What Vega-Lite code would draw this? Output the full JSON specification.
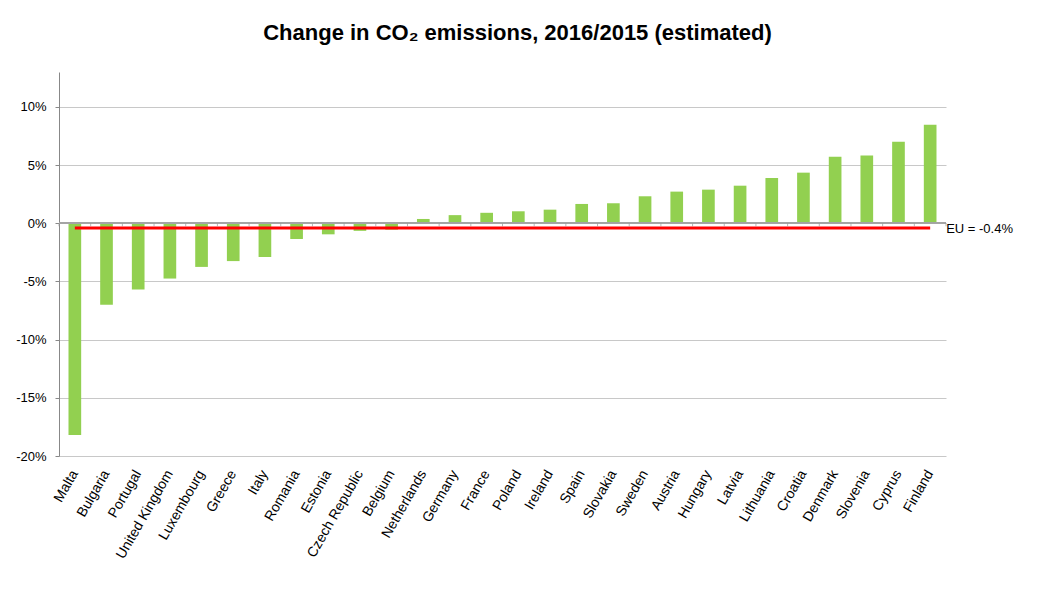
{
  "$schema": "https://vega.github.io/schema/vega-lite/v6.json",
  "width": 887,
  "height": 384,
  "autosize": "none",
  "padding": {"left": 59, "top": 72, "right": 91, "bottom": 145},
  "background": "white",
  "config": {"view": {"stroke": null}, "font": "Liberation Sans"},
  "title": {
    "text": "Change in CO₂ emissions, 2016/2015 (estimated)",
    "font": "Liberation Sans",
    "fontSize": 22,
    "fontWeight": "bold",
    "color": "black",
    "offset": 27,
    "dx": 15
  },
  "datasets": {
    "bars": [
      {"country": "Malta", "change": -18.2},
      {"country": "Bulgaria", "change": -7.0},
      {"country": "Portugal", "change": -5.7},
      {"country": "United Kingdom", "change": -4.75},
      {"country": "Luxembourg", "change": -3.75},
      {"country": "Greece", "change": -3.25},
      {"country": "Italy", "change": -2.9},
      {"country": "Romania", "change": -1.35},
      {"country": "Estonia", "change": -0.95},
      {"country": "Czech Republic", "change": -0.65},
      {"country": "Belgium", "change": -0.55},
      {"country": "Netherlands", "change": 0.37},
      {"country": "Germany", "change": 0.7},
      {"country": "France", "change": 0.9},
      {"country": "Poland", "change": 1.03},
      {"country": "Ireland", "change": 1.17},
      {"country": "Spain", "change": 1.66},
      {"country": "Slovakia", "change": 1.72},
      {"country": "Sweden", "change": 2.32},
      {"country": "Austria", "change": 2.72},
      {"country": "Hungary", "change": 2.89},
      {"country": "Latvia", "change": 3.23},
      {"country": "Lithuania", "change": 3.89},
      {"country": "Croatia", "change": 4.35},
      {"country": "Denmark", "change": 5.72},
      {"country": "Slovenia", "change": 5.83},
      {"country": "Cyprus", "change": 7.0},
      {"country": "Finland", "change": 8.46}
    ],
    "eu": [
      {"from": "Malta", "to": "Finland", "value": -0.4, "label": "EU = -0.4%"}
    ]
  },
  "layer": [
    {
      "data": {"name": "bars"},
      "mark": {"type": "bar", "color": "#92D050"},
      "encoding": {
        "x": {
          "field": "country",
          "type": "nominal",
          "sort": null,
          "scale": {
            "domain": ["Malta", "Bulgaria", "Portugal", "United Kingdom", "Luxembourg", "Greece", "Italy", "Romania", "Estonia", "Czech Republic", "Belgium", "Netherlands", "Germany", "France", "Poland", "Ireland", "Spain", "Slovakia", "Sweden", "Austria", "Hungary", "Latvia", "Lithuania", "Croatia", "Denmark", "Slovenia", "Cyprus", "Finland"],
            "paddingInner": 0.6,
            "paddingOuter": 0.3
          },
          "axis": {
            "title": null,
            "domain": false,
            "ticks": false,
            "labelAngle": -60,
            "labelFontSize": 14,
            "labelColor": "black",
            "labelPadding": 15,
            "labelFont": "Liberation Sans"
          }
        },
        "y": {
          "field": "change",
          "type": "quantitative",
          "scale": {"domain": [-20, 13], "nice": false, "zero": false},
          "axis": {
            "title": null,
            "values": [-20, -15, -10, -5, 0, 5, 10],
            "labelExpr": "datum.value + '%'",
            "labelFontSize": 13,
            "labelColor": "black",
            "labelFont": "Liberation Sans",
            "labelPadding": 9,
            "tickSize": 4,
            "tickColor": "#888888",
            "domainColor": "#888888",
            "gridColor": "#c8c8c8",
            "grid": true
          }
        }
      }
    },
    {
      "data": {"name": "bars"},
      "mark": {"type": "rule", "color": "#a6a6a6", "strokeWidth": 1},
      "encoding": {
        "y": {"datum": 0, "type": "quantitative"}
      }
    },
    {
      "data": {"name": "bars"},
      "mark": {"type": "tick", "orient": "vertical", "color": "#999999", "size": 3, "thickness": 1, "xOffset": -15.84, "yOffset": 1.5},
      "encoding": {
        "x": {"field": "country", "type": "nominal"},
        "y": {"datum": 0, "type": "quantitative"}
      }
    },
    {
      "data": {"name": "eu"},
      "mark": {"type": "tick", "orient": "vertical", "color": "#999999", "size": 3, "thickness": 1, "xOffset": 15.84, "yOffset": 1.5},
      "encoding": {
        "x": {"field": "to", "type": "nominal"},
        "y": {"datum": 0, "type": "quantitative"}
      }
    },
    {
      "data": {"name": "eu"},
      "mark": {"type": "rule", "color": "#FF0000", "strokeWidth": 3},
      "encoding": {
        "x": {"field": "from", "type": "nominal"},
        "x2": {"field": "to"},
        "y": {"field": "value", "type": "quantitative"}
      }
    },
    {
      "data": {"name": "eu"},
      "mark": {"type": "text", "align": "left", "baseline": "middle", "dx": 16, "dy": 1, "fontSize": 13, "font": "Liberation Sans", "color": "black"},
      "encoding": {
        "x": {"field": "to", "type": "nominal"},
        "y": {"field": "value", "type": "quantitative"},
        "text": {"field": "label"}
      }
    }
  ]
}
